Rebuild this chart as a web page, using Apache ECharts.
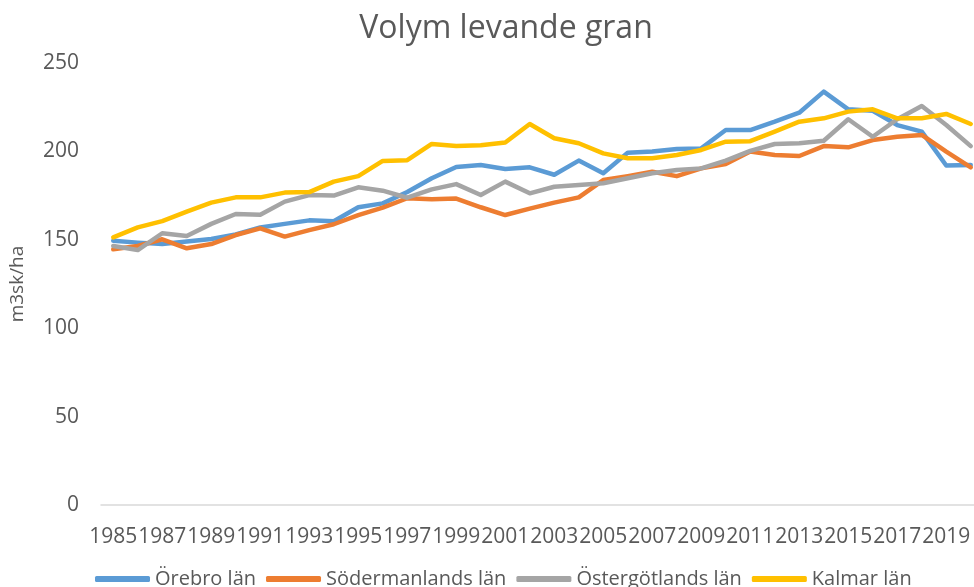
<!DOCTYPE html>
<html>
<head>
<meta charset="utf-8">
<script src="https://cdn.jsdelivr.net/npm/echarts@6/dist/echarts.min.js"></script>
<style>html,body{margin:0;padding:0;background:#fff;}#c{width:974px;height:587px;}</style>
</head>
<body>
<div id="c"></div>
<script>
const years = [];
for (let y = 1985; y <= 2020; y++) years.push(String(y));

const seriesNames = ['Örebro län', 'Södermanlands län', 'Östergötlands län', 'Kalmar län'];

const orebro = [149.5,148.4,147.6,149,150.5,153,157,159,161,160.5,168.4,170.6,177,184.8,191.2,192.3,190,191,186.8,194.8,187.6,199.3,199.9,201.4,201.7,212.1,212.1,216.8,221.9,233.8,223.8,223,214.9,211.2,192,192.3];
const sodermanland = [144.6,146.5,150.3,145.2,147.6,152.7,156.5,151.8,155.5,158.8,164,168.2,173.5,172.9,173.3,168.4,164,167.6,171,174,183.8,186,188.5,186,190.4,192.9,199.9,198,197.4,203,202.3,206.4,208.3,209.3,199.9,191];
const ostergotland = [146.5,144.2,153.7,152.1,159,164.6,164.2,171.6,175.3,175,179.7,177.8,173.8,178.5,181.5,175.3,182.9,176.3,180,181,182,184.8,187.6,189.5,190.4,194.8,200.3,204.2,204.6,206,218.2,208.3,218.2,225.7,214.9,203];
const kalmar = [151.4,157,160.6,165.9,171,174,174,176.7,177,182.9,186,194.6,195,204.2,203,203.5,205,215.5,207.4,204.6,198.9,196.1,196.1,198,200.8,205.5,205.8,211.2,216.8,218.7,222.5,223.8,218.7,218.7,221.2,215.5];

const colors = ['#5B9BD5', '#ED7D31', '#A5A5A5', '#FFC000'];
const allData = [orebro, sodermanland, ostergotland, kalmar];
const FONT = 'Open Sans';

const chart = echarts.init(document.getElementById('c'), null, {renderer: 'canvas'});
chart.setOption({
  animation: false,
  color: colors,
  title: {
    text: 'Volym levande gran',
    left: 501, top: 8, textAlign: 'center',
    textStyle: {fontFamily: FONT, fontSize: 32, fontWeight: 'normal', color: '#595959'}
  },
  legend: {
    data: seriesNames.map(n => ({name: n, icon: 'roundRect'})),
    left: 90, top: 564,
    itemWidth: 55, itemHeight: 6, itemGap: 10,
    textStyle: {fontFamily: FONT, fontSize: 20, color: '#595959'}
  },
  grid: {left: 101, right: -9, top: 63, bottom: 82, outerBoundsMode: 'none', containLabel: false},
  xAxis: {
    type: 'category',
    data: years,
    boundaryGap: true,
    axisLine: {lineStyle: {color: '#D9D9D9', width: 1.5}},
    axisTick: {show: false},
    axisLabel: {interval: 1, margin: 22, fontFamily: FONT, fontSize: 21, color: '#595959', hideOverlap: false},
    splitLine: {show: false}
  },
  yAxis: {
    type: 'value',
    min: 0, max: 250, interval: 50,
    name: 'm3sk/ha',
    nameLocation: 'middle',
    nameGap: 74,
    nameTextStyle: {fontFamily: FONT, fontSize: 19, color: '#595959'},
    axisLine: {show: false},
    axisTick: {show: false},
    axisLabel: {margin: 22, fontFamily: FONT, fontSize: 21, color: '#595959'},
    splitLine: {show: false}
  },
  series: seriesNames.map((n, i) => ({
    name: n,
    type: 'line',
    data: allData[i],
    symbol: 'none',
    lineStyle: {width: 4.5, color: colors[i], cap: 'round', join: 'round'},
    itemStyle: {color: colors[i]}
  }))
});
</script>
</body>
</html>
